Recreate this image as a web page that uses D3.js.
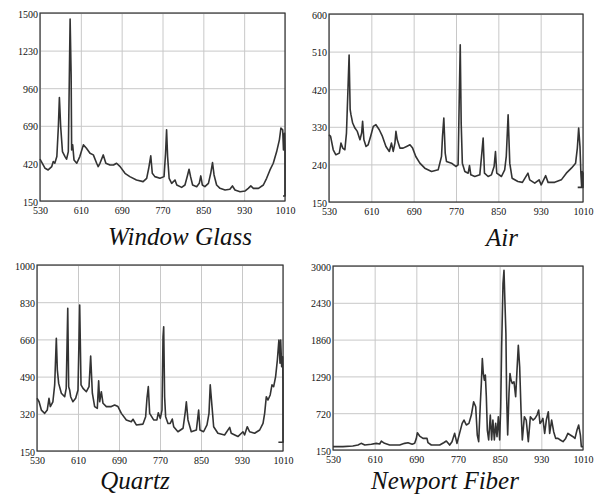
<!DOCTYPE html>
<html>
<head>
<meta charset="utf-8">
<script src="https://cdn.jsdelivr.net/npm/d3@7"></script>
<style>
body { margin: 0; background: #fff; }
svg { display: block; }
.axis .domain { display: none; }
.axis line { stroke: #c8c8c8; }
</style>
</head>
<body>
<div id="chart-area"></div>
<script>
var serif = "'Liberation Serif', 'Times New Roman', Times, 'DejaVu Serif', serif";

// wavelength ticks shared by all four panels
var xTicks = [530, 610, 690, 770, 850, 930, 1010];

var glassTicks = [150, 420, 690, 960, 1230, 1500];
var airTicks = [150, 240, 330, 420, 510, 600];
var quartzTicks = [150, 320, 490, 660, 830, 1000];
var fiberTicks = [150, 720, 1290, 1860, 2430, 3000];

var titles = ["Window Glass", "Air", "Quartz", "Newport Fiber"];

// [wavelength, intensity]
var windowGlass = [[530,450],[540,385],[546,373],[553,397],[556,433],[559,421],[563,469],[566,685],[568,893],[570.5,685],[574,505],[579,469],[582,450],[585.5,505],[587.5,1044],[589,1457],[591,1056],[592,517],[594,553],[596.6,445],[602,421],[608,469],[615,553],[621,529],[628,493],[634.5,481],[641,421],[644,397],[647.5,421],[654,481],[659,421],[667,409],[674,409],[680,421],[687,397],[696.5,349],[706,325],[719,301],[732,289],[739,313],[743,385],[747,474],[750,349],[755,325],[765,313],[773,325],[776,493],[778,661],[780,469],[783,313],[788,277],[794.5,301],[798,265],[807.5,248],[814,265],[818.7,330],[822,378],[825,325],[829,265],[837,253],[842,277],[845,330],[848,265],[853,253],[860,277],[864.5,349],[868,426],[871,337],[876,265],[882.7,241],[892.5,229],[902,234],[907,258],[912,229],[922,217],[932,222],[938,241],[943,258],[948,241],[958,241],[967.6,265],[974,313],[980.6,373],[987,421],[993.7,505],[999,589],[1002,673],[1005.5,661],[1007,517],[1009,637],[1010,517],[1010,186],[1006,186]];

var air = [[530,311],[533,307],[538,275],[543,263],[549.5,267],[552.6,291],[556,279],[560,275],[563,315],[566,426],[568,502],[570,371],[571.5,359],[574.7,339],[579,327],[583.5,319],[588.5,299],[591.7,315],[593.5,343],[596,299],[600,283],[604,287],[608.6,307],[613.7,331],[618.7,335],[625,323],[631,307],[637.6,283],[644,271],[648,291],[651.4,271],[654.6,291],[656.5,319],[659,299],[664,279],[670,279],[676.6,283],[683,287],[688,279],[694,259],[701.7,243],[711,231],[723.8,223],[736.3,227],[742.6,259],[744.5,307],[747,351],[749.6,267],[752,247],[761.5,243],[769.7,235],[774,239],[776,387],[778,526],[779.8,339],[782,243],[786.7,223],[793,219],[795.5,237],[798,215],[805.5,211],[815,215],[818.8,267],[821.3,303],[823.8,219],[830.7,211],[837,215],[842,235],[844.6,271],[847,219],[855.9,211],[862,227],[865,259],[868.5,359],[871.6,243],[876,207],[887,199],[895.5,197],[906,219],[909.3,203],[918.8,195],[927,203],[931,191],[939.5,213],[944,197],[956.5,197],[969,203],[978.5,219],[988,231],[996,243],[999.3,279],[1001.8,327],[1004.3,283],[1006,219],[1007.4,187],[1008.6,223],[1010,219],[1010,185],[1000,185]];

var quartz = [[530,391],[534,375],[538.5,337],[545,322],[550,337],[553.4,391],[556,353],[561,375],[564.5,452],[567.7,665],[569.7,520],[572.3,459],[577.5,414],[584,398],[587,436],[590,802],[591.8,444],[593.7,429],[595.7,398],[600,375],[605.4,391],[610,429],[613.3,817],[615.9,452],[619.8,436],[626.3,421],[631.5,444],[634.7,584],[638,414],[642.5,353],[647.7,345],[650.3,471],[652.3,375],[655.5,421],[658.8,368],[665.3,353],[675,353],[681.5,360],[688,353],[694.6,322],[704.3,292],[714,284],[717.3,295],[723.8,269],[736.8,273],[742,307],[744.6,391],[747.2,444],[749.8,322],[757.6,292],[764,292],[766.7,325],[770.6,299],[773.9,337],[775.9,672],[777.2,718],[779,398],[781,307],[785.6,276],[790,276],[794,296],[796.7,261],[805,238],[815,254],[819.4,330],[821.4,375],[824.6,292],[831,238],[841,246],[845.4,337],[848,246],[855,238],[861.7,269],[865.6,322],[868,452],[871.5,353],[874.7,261],[883,231],[896,223],[906,258],[909,231],[922,216],[931.9,238],[935,223],[940.2,261],[944.8,238],[954.6,231],[964.5,246],[971,276],[974.2,322],[977.4,398],[980.7,383],[985,406],[988.5,452],[991.8,444],[995.6,490],[999,566],[1002,657],[1004.2,551],[1005.5,657],[1007.4,535],[1009.4,581],[1010,459],[1010,190],[1001,190]];

var newportFiber = [[530,202],[549,202],[568,212],[578,227],[584,253],[591,227],[603.6,238],[613,253],[619.6,243],[622.8,289],[629,253],[638.8,227],[658,227],[667.6,253],[674,263],[682,238],[686.8,253],[690,330],[692,418],[696.4,366],[702.8,330],[710.5,330],[712.4,263],[718.8,227],[734.8,227],[742.5,263],[747.6,289],[754,227],[758.5,279],[763.6,408],[768,253],[773,408],[778,562],[781.5,614],[786,537],[791,562],[795.6,691],[800,897],[804,820],[807,382],[809.7,279],[812.9,872],[814.8,1181],[816.7,1567],[818.6,1335],[820.6,1232],[822.5,1310],[824.4,975],[826.3,459],[828.9,305],[832,691],[834.6,305],[837,614],[839.8,305],[842.3,562],[844.9,356],[847.4,665],[850,305],[852,820],[853.8,1748],[856.4,2727],[858.3,2933],[860,2469],[862,1954],[863.4,975],[865.4,382],[867.9,1026],[869.8,1335],[871.8,1232],[874.3,1181],[877.5,1207],[880.7,975],[883.3,1387],[885.8,1773],[888.4,1438],[891,768],[893.5,305],[897.4,665],[901,614],[905,279],[908.9,665],[914,614],[917.8,640],[921.7,691],[924.9,768],[927.4,562],[930,588],[933,640],[936.4,408],[939.6,614],[943.4,743],[946,408],[949.8,614],[953.7,434],[957.5,330],[962,330],[966.5,305],[971.6,279],[976.7,330],[981,408],[985.7,382],[990.8,356],[994.6,330],[998.5,459],[1001.7,537],[1005,382],[1006.8,202],[1010,202]];

var panels = [
  {data: windowGlass, yTicks: glassTicks, left: 40, top: 13, right: 285, bottom: 201, tx: 180, ty: 245},
  {data: air, yTicks: airTicks, left: 329, top: 14, right: 583, bottom: 202, tx: 502, ty: 246},
  {data: quartz, yTicks: quartzTicks, left: 37, top: 265, right: 283, bottom: 451, tx: 135, ty: 489},
  {data: newportFiber, yTicks: fiberTicks, left: 333, top: 266, right: 583, bottom: 450, tx: 445, ty: 489}
];

var svg = d3.select("#chart-area").append("svg")
  .attr("width", 605)
  .attr("height", 497);

panels.forEach((p, i) => {
  var width = p.right - p.left;
  var height = p.bottom - p.top;

  var g = svg.append("g")
    .attr("transform", "translate(" + p.left + ", " + p.top + ")");

  var x = d3.scaleLinear()
    .domain([xTicks[0], xTicks[xTicks.length - 1]])
    .range([0, width]);

  var y = d3.scaleLinear()
    .domain([p.yTicks[0], p.yTicks[p.yTicks.length - 1]])
    .range([height, 0]);

  var bottomAxis = d3.axisBottom(x)
    .tickValues(xTicks)
    .tickSize(-height)
    .tickPadding(6)
    .tickFormat(d3.format("d"));
  g.append("g")
    .attr("class", "x axis")
    .attr("transform", "translate(0, " + height + ")")
    .call(bottomAxis)
    .attr("font-family", serif)
    .attr("font-size", 10)
    .selectAll("text")
    .attr("fill", "#111");

  var leftAxis = d3.axisLeft(y)
    .tickValues(p.yTicks)
    .tickSize(-width)
    .tickPadding(2)
    .tickFormat(d3.format("d"));
  g.append("g")
    .attr("class", "y axis")
    .call(leftAxis)
    .attr("font-family", serif)
    .attr("font-size", 10)
    .selectAll("text")
    .attr("fill", "#111")
    .attr("dy", "0.4em");

  g.append("rect")
    .attr("width", width)
    .attr("height", height)
    .attr("fill", "none")
    .attr("stroke", "#333")
    .attr("stroke-width", 1.2);

  var line = d3.line()
    .x((d) => x(d[0]))
    .y((d) => y(d[1]));

  g.append("path")
    .datum(p.data)
    .attr("d", line)
    .attr("fill", "none")
    .attr("stroke", "#333")
    .attr("stroke-width", 1.6)
    .attr("stroke-linejoin", "round");

  svg.append("text")
    .attr("x", p.tx)
    .attr("y", p.ty)
    .attr("text-anchor", "middle")
    .attr("font-family", serif)
    .attr("font-style", "italic")
    .attr("font-size", 25)
    .attr("fill", "#111")
    .text(titles[i]);
});
</script>
</body>
</html>
